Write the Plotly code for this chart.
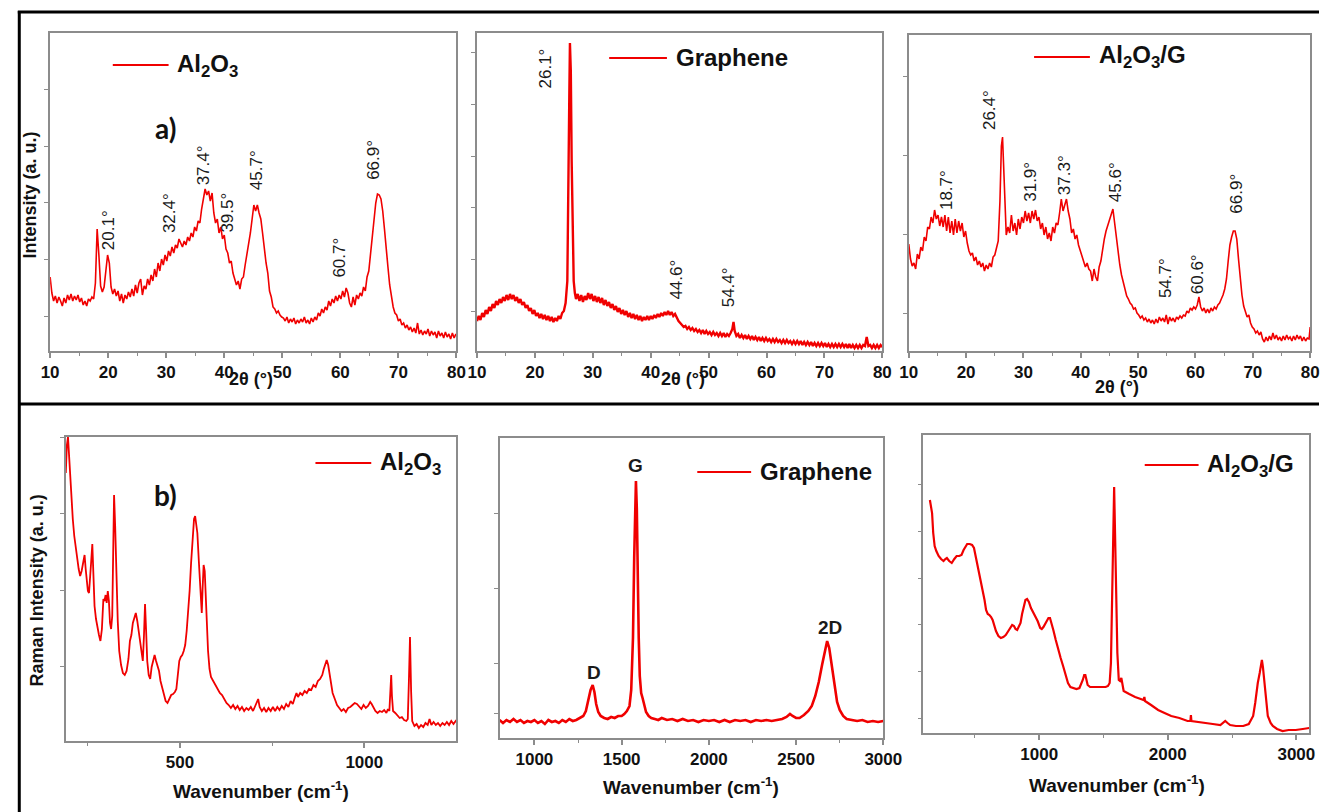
import plotly.graph_objects as go

# ---------------- DATA ----------------
xrd_al2o3 = [(10.0,74),(10.3,58),(10.6,50),(10.9,55),(11.2,48),(11.5,54),(11.8,50),(12.1,45),(12.4,53),(12.7,48),(13.0,56),(13.3,51),(13.6,57),(13.9,50),(14.2,55),(14.5,51),(14.8,56),(15.1,49),(15.4,53),(15.7,46),(16.0,50),(16.3,45),(16.6,52),(16.9,50),(17.2,54),(17.5,52),(17.8,68),(18.1,122),(18.4,96),(18.7,65),(19.0,59),(19.3,64),(19.6,80),(19.9,96),(20.2,88),(20.5,64),(20.8,57),(21.1,62),(21.4,55),(21.7,60),(22.0,50),(22.3,57),(22.6,48),(22.9,56),(23.2,52),(23.5,59),(23.8,54),(24.1,62),(24.4,55),(24.7,66),(25.0,58),(25.3,68),(25.6,72),(25.9,56),(26.2,65),(26.5,62),(26.8,72),(27.1,66),(27.4,76),(27.7,70),(28.0,82),(28.3,74),(28.6,88),(28.9,80),(29.2,92),(29.5,86),(29.8,96),(30.1,90),(30.4,100),(30.7,95),(31.0,104),(31.3,98),(31.6,106),(31.9,103),(32.2,112),(32.5,108),(32.8,104),(33.1,110),(33.4,106),(33.7,114),(34.0,110),(34.3,118),(34.6,114),(34.9,124),(35.2,120),(35.5,130),(35.8,128),(36.1,142),(36.4,152),(36.7,162),(37.0,156),(37.3,160),(37.6,150),(37.9,158),(38.2,138),(38.5,128),(38.8,132),(39.1,118),(39.4,124),(39.7,112),(40.0,116),(40.3,102),(40.6,98),(40.9,88),(41.2,90),(41.5,78),(41.8,72),(42.1,66),(42.4,70),(42.7,62),(43.0,72),(43.3,74),(43.6,86),(43.9,96),(44.2,108),(44.5,118),(44.8,132),(45.1,146),(45.4,140),(45.7,146),(46.0,138),(46.3,132),(46.6,118),(46.9,100),(47.2,88),(47.5,78),(47.8,60),(48.1,54),(48.4,44),(48.7,42),(49.0,38),(49.3,40),(49.6,36),(49.9,34),(50.2,33),(50.5,30),(50.8,34),(51.1,28),(51.4,32),(51.7,29),(52.0,33),(52.3,27),(52.6,31),(52.9,28),(53.2,32),(53.5,29),(53.8,34),(54.1,28),(54.4,31),(54.7,27),(55.0,33),(55.3,29),(55.6,34),(55.9,31),(56.2,38),(56.5,35),(56.8,42),(57.1,38),(57.4,44),(57.7,41),(58.0,50),(58.3,45),(58.6,52),(58.9,48),(59.2,55),(59.5,50),(59.8,56),(60.1,52),(60.4,60),(60.7,54),(61.0,63),(61.3,58),(61.6,48),(61.9,44),(62.2,54),(62.5,46),(62.8,56),(63.1,52),(63.4,58),(63.7,55),(64.0,64),(64.3,60),(64.6,74),(64.9,80),(65.2,96),(65.5,112),(65.8,132),(66.1,148),(66.4,157),(66.7,156),(67.0,152),(67.3,140),(67.6,122),(67.9,100),(68.2,84),(68.5,66),(68.8,52),(69.1,44),(69.4,38),(69.7,36),(70.0,30),(70.3,32),(70.6,26),(70.9,28),(71.2,23),(71.5,26),(71.8,21),(72.1,24),(72.4,19),(72.7,23),(73.0,18),(73.3,28),(73.6,17),(73.9,21),(74.2,16),(74.5,20),(74.8,17),(75.1,22),(75.4,15),(75.7,20),(76.0,16),(76.3,19),(76.6,13),(76.9,20),(77.2,15),(77.5,18),(77.8,13),(78.1,19),(78.4,14),(78.7,17),(79.0,12),(79.3,18),(79.6,13),(79.9,17),(80.0,15)]

xrd_graphene = [(10.0,30),(10.3,35),(10.6,31),(10.9,38),(11.2,34),(11.5,41),(11.8,37),(12.1,44),(12.4,40),(12.7,47),(13.0,43),(13.3,50),(13.6,46),(13.9,52),(14.2,48),(14.5,54),(14.8,50),(15.1,56),(15.4,51),(15.7,57),(16.0,52),(16.3,56),(16.6,50),(16.9,54),(17.2,48),(17.5,52),(17.8,46),(18.1,49),(18.4,43),(18.7,46),(19.0,40),(19.3,43),(19.6,37),(19.9,41),(20.2,35),(20.5,38),(20.8,33),(21.1,37),(21.4,32),(21.7,36),(22.0,31),(22.3,35),(22.6,30),(22.9,34),(23.2,29),(23.5,33),(23.8,30),(24.1,35),(24.4,32),(24.7,38),(25.0,40),(25.3,48),(25.6,70),(25.8,150),(25.95,260),(26.05,308),(26.2,280),(26.35,190),(26.5,110),(26.7,70),(26.9,58),(27.1,52),(27.4,57),(27.7,50),(28.0,56),(28.3,49),(28.6,55),(28.9,51),(29.2,58),(29.5,52),(29.8,57),(30.1,50),(30.4,55),(30.7,49),(31.0,54),(31.3,48),(31.6,53),(31.9,46),(32.2,51),(32.5,45),(32.8,49),(33.1,43),(33.4,47),(33.7,41),(34.0,45),(34.3,39),(34.6,43),(34.9,37),(35.2,41),(35.5,36),(35.8,40),(36.1,34),(36.4,38),(36.7,33),(37.0,37),(37.3,32),(37.6,36),(37.9,31),(38.2,35),(38.5,30),(38.8,34),(39.1,31),(39.4,35),(39.7,31),(40.0,35),(40.3,32),(40.6,36),(40.9,33),(41.2,37),(41.5,34),(41.8,38),(42.1,35),(42.4,39),(42.7,36),(43.0,40),(43.3,36),(43.6,39),(43.9,35),(44.2,37),(44.5,33),(44.8,30),(45.1,28),(45.4,26),(45.7,24),(46.0,25),(46.3,22),(46.6,24),(46.9,21),(47.2,23),(47.5,20),(47.8,22),(48.1,19),(48.4,21),(48.7,18),(49.0,21),(49.3,17),(49.6,20),(49.9,17),(50.2,19),(50.5,16),(50.8,19),(51.1,16),(51.4,18),(51.7,15),(52.0,18),(52.3,15),(52.6,18),(52.9,14),(53.2,17),(53.5,15),(53.8,18),(54.1,22),(54.3,29),(54.5,20),(54.8,15),(55.1,17),(55.4,13),(55.7,16),(56.0,13),(56.3,16),(56.6,12),(56.9,15),(57.2,12),(57.5,15),(57.8,11),(58.1,14),(58.4,11),(58.7,14),(59.0,10),(59.3,13),(59.6,10),(59.9,13),(60.2,10),(60.5,12),(60.8,9),(61.1,12),(61.4,9),(61.7,12),(62.0,9),(62.3,11),(62.6,8),(62.9,11),(63.2,8),(63.5,11),(63.8,8),(64.1,10),(64.4,7),(64.7,10),(65.0,7),(65.3,10),(65.6,7),(65.9,10),(66.2,6),(66.5,9),(66.8,6),(67.1,9),(67.4,6),(67.7,9),(68.0,5),(68.3,8),(68.6,5),(68.9,8),(69.2,5),(69.5,8),(69.8,5),(70.1,8),(70.4,4),(70.7,7),(71.0,4),(71.3,7),(71.6,4),(71.9,7),(72.2,4),(72.5,7),(72.8,4),(73.1,7),(73.4,4),(73.7,7),(74.0,3),(74.3,7),(74.6,3),(74.9,6),(75.2,3),(75.5,6),(75.8,3),(76.1,6),(76.4,3),(76.7,6),(77.0,5),(77.3,14),(77.6,5),(77.9,6),(78.2,3),(78.5,6),(78.8,3),(79.1,6),(79.4,3),(79.7,6),(80.0,4)]

xrd_composite = [(10.0,107),(10.3,92),(10.6,85),(10.9,88),(11.2,82),(11.5,97),(11.8,92),(12.1,104),(12.4,100),(12.7,114),(13.0,110),(13.3,124),(13.6,122),(13.9,134),(14.2,128),(14.5,141),(14.8,132),(15.1,136),(15.4,125),(15.7,134),(16.0,124),(16.3,136),(16.6,120),(16.9,134),(17.2,118),(17.5,130),(17.8,116),(18.1,132),(18.4,118),(18.7,130),(19.0,120),(19.3,128),(19.6,114),(19.9,120),(20.2,108),(20.5,100),(20.8,96),(21.1,98),(21.4,90),(21.7,94),(22.0,86),(22.3,90),(22.6,84),(22.9,88),(23.2,80),(23.5,86),(23.8,82),(24.1,88),(24.4,84),(24.7,94),(25.0,96),(25.3,104),(25.6,110),(25.9,150),(26.15,205),(26.35,214),(26.55,180),(26.75,140),(27.0,116),(27.3,124),(27.6,118),(27.9,136),(28.2,120),(28.5,128),(28.8,116),(29.1,132),(29.4,122),(29.7,134),(30.0,128),(30.3,140),(30.6,130),(30.9,138),(31.2,128),(31.5,140),(31.8,132),(32.1,141),(32.4,130),(32.7,134),(33.0,122),(33.3,128),(33.6,116),(33.9,124),(34.2,112),(34.5,118),(34.8,110),(35.1,124),(35.4,118),(35.7,128),(36.0,126),(36.3,138),(36.6,152),(36.9,140),(37.2,146),(37.5,152),(37.8,140),(38.1,132),(38.4,118),(38.7,122),(39.0,112),(39.3,116),(39.6,106),(39.9,100),(40.2,94),(40.5,88),(40.8,84),(41.1,88),(41.4,82),(41.7,80),(42.0,70),(42.3,82),(42.6,74),(42.9,70),(43.2,84),(43.5,90),(43.8,104),(44.1,112),(44.4,120),(44.7,126),(45.0,132),(45.3,138),(45.6,142),(45.9,128),(46.2,112),(46.5,98),(46.8,86),(47.1,76),(47.4,68),(47.7,60),(48.0,55),(48.3,52),(48.6,48),(48.9,46),(49.2,42),(49.5,43),(49.8,38),(50.1,36),(50.4,33),(50.7,35),(51.0,31),(51.3,33),(51.6,29),(51.9,32),(52.2,28),(52.5,31),(52.8,27),(53.1,32),(53.4,28),(53.7,34),(54.0,30),(54.3,33),(54.6,29),(54.9,36),(55.2,27),(55.5,34),(55.8,30),(56.1,33),(56.4,29),(56.7,34),(57.0,32),(57.3,35),(57.6,33),(57.9,36),(58.2,35),(58.5,40),(58.8,38),(59.1,43),(59.4,41),(59.7,44),(60.0,42),(60.3,46),(60.6,54),(60.9,44),(61.2,40),(61.5,43),(61.8,38),(62.1,42),(62.4,38),(62.7,43),(63.0,40),(63.3,44),(63.6,42),(63.9,46),(64.2,48),(64.5,52),(64.8,56),(65.1,62),(65.4,72),(65.7,90),(66.0,106),(66.3,114),(66.6,120),(66.9,120),(67.2,112),(67.5,92),(67.8,72),(68.1,56),(68.4,45),(68.7,40),(69.0,34),(69.3,36),(69.6,28),(69.9,24),(70.2,22),(70.5,18),(70.8,20),(71.1,16),(71.4,19),(71.7,12),(72.0,9),(72.3,14),(72.6,10),(72.9,15),(73.2,11),(73.5,18),(73.8,12),(74.1,16),(74.4,11),(74.7,14),(75.0,10),(75.3,15),(75.6,11),(75.9,16),(76.2,12),(76.5,14),(76.8,10),(77.1,15),(77.4,11),(77.7,16),(78.0,12),(78.3,15),(78.6,10),(78.9,14),(79.2,10),(79.5,13),(79.8,12),(80.0,24)]

raman_al2o3 = [(190,268),(193,296),(196,304),(199,285),(202,255),(205,238),(209,222),(213,205),(217,192),(221,181),(225,172),(229,165),(233,170),(237,178),(241,186),(244,172),(247,158),(250,150),(253,148),(256,160),(259,180),(262,197),(265,160),(268,135),(272,122),(276,112),(280,106),(284,100),(288,112),(292,142),(295,140),(298,146),(301,138),(304,150),(307,140),(310,118),(313,112),(316,125),(319,190),(321,246),(324,215),(327,168),(331,120),(335,90),(340,76),(345,68),(350,66),(355,70),(360,82),(364,100),(368,106),(372,118),(376,122),(380,128),(384,120),(388,110),(392,102),(396,88),(399,80),(402,104),(405,137),(408,110),(411,80),(415,66),(419,62),(423,74),(427,82),(431,86),(435,80),(439,76),(443,70),(447,60),(451,54),(456,46),(461,40),(466,38),(471,42),(476,46),(481,47),(486,49),(490,52),(494,68),(498,80),(502,84),(506,86),(510,90),(514,96),(518,110),(522,128),(526,150),(530,178),(534,205),(538,222),(541,225),(544,218),(547,208),(551,180),(554,155),(557,132),(559,128),(561,150),(564,176),(567,170),(570,140),(573,116),(576,90),(580,72),(584,64),(590,60),(596,56),(602,52),(608,48),(614,46),(620,42),(626,38),(632,36),(638,33),(644,36),(650,32),(656,35),(662,31),(668,34),(674,30),(680,33),(686,31),(692,34),(698,30),(704,35),(708,39),(712,42),(716,34),(722,30),(728,33),(734,29),(740,33),(746,30),(752,34),(758,30),(764,34),(770,31),(776,35),(782,32),(788,37),(794,34),(800,40),(806,37),(812,44),(816,48),(820,44),(826,48),(832,46),(838,50),(844,48),(850,52),(856,51),(862,56),(868,54),(874,60),(880,62),(886,66),(890,72),(894,76),(898,81),(902,76),(906,66),(910,56),(914,48),(920,42),(926,36),(932,33),(938,30),(944,32),(950,29),(956,33),(962,34),(968,36),(974,38),(980,37),(986,34),(992,32),(998,36),(1004,33),(1010,35),(1016,39),(1020,37),(1024,34),(1030,30),(1036,28),(1042,30),(1048,29),(1054,31),(1060,28),(1064,32),(1068,30),(1071,52),(1073,66),(1075,45),(1078,30),(1084,28),(1090,25),(1096,23),(1102,24),(1108,21),(1114,20),(1118,22),(1121,60),(1124,104),(1127,50),(1130,20),(1136,15),(1142,17),(1148,13),(1154,16),(1160,14),(1166,18),(1172,16),(1177,22),(1182,16),(1188,19),(1194,16),(1200,18),(1206,15),(1212,18),(1218,16),(1224,19),(1230,16),(1236,20),(1242,17),(1250,21)]

raman_graphene = [(800,18),(820,15),(840,18),(860,16),(880,19),(900,16),(920,18),(940,15),(960,17),(980,16),(1000,18),(1020,15),(1040,17),(1060,14),(1080,18),(1100,16),(1120,17),(1140,15),(1160,18),(1180,16),(1200,19),(1220,17),(1240,18),(1260,20),(1280,22),(1295,27),(1310,38),(1322,48),(1334,53),(1344,46),(1354,34),(1366,26),(1380,22),(1400,20),(1420,19),(1440,21),(1460,20),(1480,22),(1500,22),(1515,24),(1530,27),(1545,32),(1555,48),(1565,100),(1572,180),(1578,240),(1582,257),(1587,230),(1592,160),(1598,100),(1604,62),(1612,45),(1620,40),(1628,34),(1640,26),(1655,22),(1670,20),(1690,19),(1710,18),(1730,20),(1760,18),(1790,19),(1820,17),(1850,19),(1880,17),(1910,18),(1940,16),(1970,18),(2000,17),(2030,18),(2060,16),(2090,18),(2120,16),(2150,18),(2180,17),(2210,18),(2240,16),(2270,18),(2300,17),(2330,18),(2360,17),(2390,18),(2420,19),(2445,21),(2465,24),(2480,22),(2500,20),(2520,20),(2545,23),(2570,27),(2590,32),(2610,42),(2630,56),(2650,74),(2665,88),(2678,97),(2690,90),(2705,72),(2720,50),(2735,36),(2750,28),(2770,22),(2790,19),(2820,18),(2850,17),(2880,18),(2910,16),(2940,17),(2970,16),(3000,17)]

raman_composite = [(150,233),(158,228),(167,220),(176,200),(187,187),(200,182),(218,177),(237,174),(256,172),(270,174),(282,175),(300,172),(320,170),(340,174),(358,177),(378,177),(396,178),(412,183),(427,187),(440,189),(460,189),(478,188),(493,185),(508,176),(524,167),(543,155),(562,143),(575,133),(587,123),(600,119),(613,118),(626,116),(638,113),(651,107),(664,102),(683,97),(702,95),(721,96),(740,98),(760,102),(778,105),(790,108),(804,107),(816,104),(829,103),(842,106),(855,110),(867,119),(880,127),(893,133),(906,134),(920,131),(936,125),(952,121),(969,117),(988,112),(1008,105),(1020,104),(1033,106),(1046,109),(1059,112),(1072,115),(1084,115),(1097,110),(1110,103),(1129,93),(1148,83),(1167,75),(1186,67),(1205,58),(1224,50),(1243,46),(1262,45),(1290,44),(1313,45),(1330,50),(1339,53),(1350,58),(1359,58),(1368,53),(1377,48),(1396,46),(1415,46),(1450,46),(1490,46),(1517,46),(1535,47),(1548,50),(1558,70),(1568,133),(1576,220),(1583,246),(1590,200),(1599,133),(1608,80),(1619,53),(1629,52),(1639,55),(1648,46),(1657,42),(1700,39),(1746,36),(1790,34),(1812,33),(1818,36),(1823,32),(1870,28),(1925,23),(1975,20),(2027,17),(2090,15),(2154,12),(2176,12),(2180,18),(2184,12),(2230,11),(2282,10),(2350,9),(2409,8),(2430,10),(2447,12),(2465,10),(2485,8),(2530,7),(2587,7),(2630,9),(2664,17),(2680,30),(2689,40),(2700,50),(2715,60),(2726,70),(2732,73),(2740,66),(2753,47),(2765,30),(2778,17),(2800,10),(2817,7),(2850,4),(2893,2),(2940,3),(2995,3),(3050,4),(3100,5)]

legend_names = ["Al<sub>2</sub>O<sub>3</sub>", "Graphene", "Al<sub>2</sub>O<sub>3</sub>/G"]

# peak labels: (text, x, y) in data units of each panel
peaks_a1 = [("20.1°",20.0,121),("32.4°",30.5,138),("37.4°",36.4,186),("39.5°",40.4,138),("45.7°",45.5,181),("60.7°",59.7,93),("66.9°",65.6,191)]
peaks_a2 = [("26.1°",22.0,283),("44.6°",44.3,71),("54.4°",53.4,64)]
peaks_a3 = [("18.7°",16.5,161),("26.4°",24.0,241),("31.9°",31.1,169),("37.3°",37.1,176),("45.6°",46.0,169),("54.7°",54.7,73),("60.6°",60.3,77),("66.9°",67.0,157)]
bands_b2 = [("D",1339,66),("G",1580,272),("2D",2697,111)]

# ---------------- LAYOUT HELPERS ----------------
W, H = 1338, 812
def fx(px): return px / W
def fy(py): return 1 - py / H

RED = "#f00000"
GREY = "#8c8c8c"
FONT = "Liberation Sans"

# (left, right, top, bottom, xrange, yrange, ytickvals)
panels = [
    (42, 457, 33, 351, [10, 80], [0, 318], [35, 92, 149, 205, 262]),
    (478, 892, 33, 351, [10, 80], [0, 318], [40, 92, 144, 195, 247, 299]),
    (919, 1329, 35, 351, [10, 80], [0, 316], [38, 117, 196, 275]),
    (58, 457, 437, 741, [190, 1250], [0, 304], [75, 151, 228, 304]),
    (501, 893, 438, 738, [800, 3000], [0, 300], [25, 75, 150, 225]),
    (934, 1328, 435, 733, [100, 3100], [0, 298], [15, 62, 109, 155, 202, 249]),
]
xtick_major = [
    dict(dtick=10, tick0=10), dict(dtick=10, tick0=10), dict(dtick=10, tick0=10),
    dict(tickvals=[500, 1000]),
    dict(tickvals=[1000, 1500, 2000, 2500, 3000]),
    dict(tickvals=[1000, 2000, 3000]),
]
xtick_minor = [
    dict(dtick=5, tick0=10), dict(dtick=5, tick0=10), dict(dtick=5, tick0=10),
    dict(tickvals=[250, 750]),
    dict(tickvals=[1250, 1750, 2250, 2750]),
    dict(tickvals=[500, 1500, 2500]),
]

series = [xrd_al2o3, xrd_graphene, xrd_composite, raman_al2o3, raman_graphene, raman_composite]
widths = [1.6, 2.4, 1.6, 1.8, 2.6, 2.2]

fig = go.Figure()
layout = dict(
    width=W, height=H, margin=dict(l=0, r=0, t=0, b=0),
    paper_bgcolor="white", plot_bgcolor="white", showlegend=False,
    font=dict(family=FONT, color="black"),
)

for i, (l, r, t, b, xr, yr, ytv) in enumerate(panels):
    n = "" if i == 0 else str(i + 1)
    xs = [p[0] for p in series[i]]
    ys = [p[1] for p in series[i]]
    fig.add_trace(go.Scatter(x=xs, y=ys, mode="lines", xaxis="x" + n, yaxis="y" + n,
                             line=dict(color=RED, width=widths[i]), hoverinfo="skip"))
    xa = dict(domain=[fx(l), fx(r)], range=xr, anchor="y" + n, showgrid=False, zeroline=False,
              showline=True, mirror=True, linecolor=GREY, linewidth=1.5,
              ticks="outside", ticklen=5, tickwidth=1.5, tickcolor=GREY,
              tickfont=dict(family=FONT, size=17, color="#111", weight="bold"),
              minor=dict(ticks="outside", ticklen=3, tickwidth=1.2, tickcolor=GREY, **xtick_minor[i]),
              **xtick_major[i])
    ya = dict(domain=[fy(b), fy(t)], range=yr, anchor="x" + n, showgrid=False, zeroline=False,
              showline=True, mirror=True, linecolor=GREY, linewidth=1.5,
              ticks="outside", ticklen=4, tickwidth=1.2, tickcolor=GREY,
              tickvals=ytv, showticklabels=False)
    layout["xaxis" + n] = xa
    layout["yaxis" + n] = ya

annotations = []
def ann(text, px, py, size, bold=True, angle=0, family=FONT, color="#111"):
    annotations.append(dict(text=text, x=fx(px), y=fy(py), xref="paper", yref="paper",
                            xanchor="center", yanchor="middle", showarrow=False, textangle=angle,
                            font=dict(family=family, size=size, color=color,
                                      weight="bold" if bold else "normal")))

# peak labels in data coords
for lst, n in [(peaks_a1, ""), (peaks_a2, "2"), (peaks_a3, "3")]:
    for txt, x, y in lst:
        annotations.append(dict(text=txt, x=x, y=y, xref="x" + n, yref="y" + n, showarrow=False,
                                textangle=-90, xanchor="center", yanchor="middle",
                                font=dict(family=FONT, size=17, color="#1a1a1a")))
for txt, x, y in bands_b2:
    annotations.append(dict(text=txt, x=x, y=y, xref="x5", yref="y5", showarrow=False,
                            xanchor="center", yanchor="middle",
                            font=dict(family=FONT, size=19, color="#1a1a1a", weight="bold")))

# axis titles
ann("Intensity (a. u.)", 21, 195, 18, angle=-90)
ann("Raman Intensity (a. u.)", 29, 590, 18, angle=-90)
for px, py in [(247, 379), (688, 379), (1132, 387)]:
    ann("2θ (°)", px, py, 18)
for px, py in [(257, 790), (697, 786), (1132, 784)]:
    ann("Wavenumber (cm<sup>-1</sup>)", px, py, 19)

# panel letters
ann("a)", 160, 128, 28, family="Lato")
ann("b)", 160, 495, 28, family="Lato")

# legends (sample line + name)
shapes = []
legend_pos = [(106, 163, 65, 0), (613, 672, 58, 1), (1047, 1104, 57, 2),
              (313, 370, 463, 0), (703, 758, 472, 1), (1160, 1215, 465, 2)]
for x0, x1, yy, k in legend_pos:
    shapes.append(dict(type="line", xref="paper", yref="paper", x0=fx(x0), x1=fx(x1),
                       y0=fy(yy), y1=fy(yy), line=dict(color=RED, width=2)))
    annotations.append(dict(text=legend_names[k], x=fx(x1 + 7), y=fy(yy), xref="paper", yref="paper",
                            xanchor="left", yanchor="middle", showarrow=False,
                            font=dict(family=FONT, size=24, color="#111", weight="bold")))

# outer frame lines
frame = [(9, 12, 1338, 12), (10.5, 11, 10.5, 812), (10, 404, 1338, 404)]
for x0, y0, x1, y1 in frame:
    shapes.append(dict(type="line", xref="paper", yref="paper", x0=fx(x0), y0=fy(y0),
                       x1=fx(x1), y1=fy(y1), line=dict(color="black", width=3)))

layout["annotations"] = annotations
layout["shapes"] = shapes
fig.update_layout(**layout)
fig.write_html("out.html")
